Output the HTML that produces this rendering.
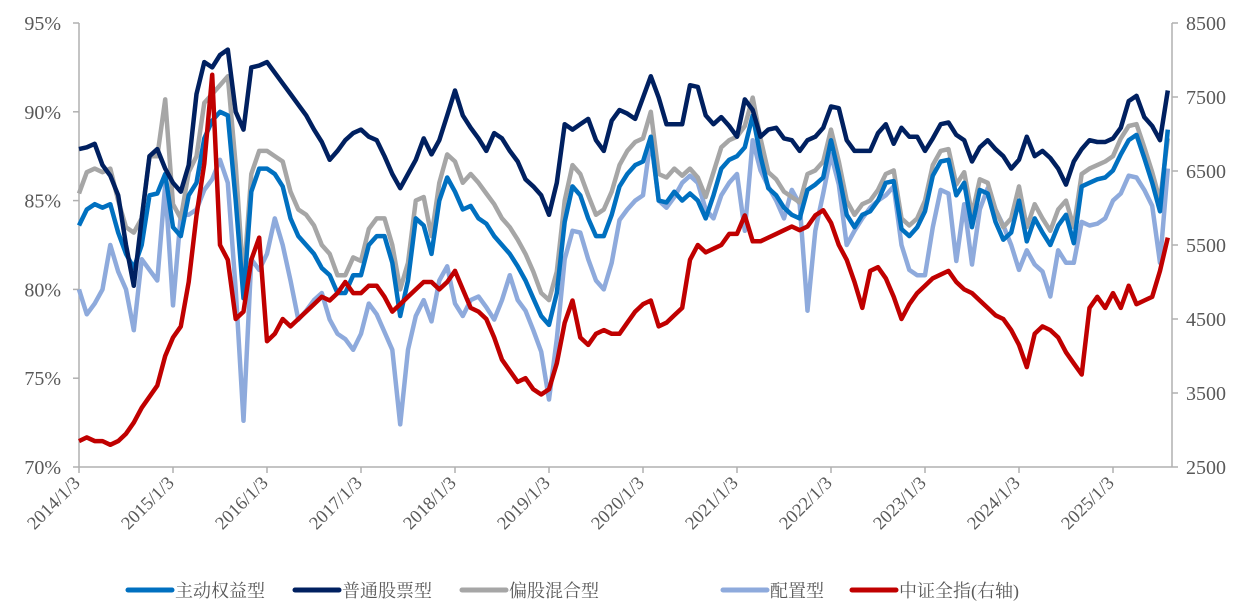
<!DOCTYPE html>
<html><head><meta charset="utf-8"><style>
body{margin:0;background:#fff;}
svg{display:block;}
text{font-family:"Liberation Serif","Noto Serif CJK SC",serif;fill:#595959;}
</style></head><body>
<svg id="chart" width="1248" height="609" viewBox="0 0 1248 609" xmlns="http://www.w3.org/2000/svg">
<g id="axes"></g>
<g id="series"></g>
<g id="legend"></g>
</svg>
<script>
const startYear = 2014;
const xTickLabels = ["2014/1/3","2015/1/3","2016/1/3","2017/1/3","2018/1/3","2019/1/3","2020/1/3","2021/1/3","2022/1/3","2023/1/3","2024/1/3","2025/1/3"];
const leftTicks = [70,75,80,85,90,95];
const rightTicks = [2500,3500,4500,5500,6500,7500,8500];
const seriesNames = ["主动权益型","普通股票型","偏股混合型","配置型","中证全指(右轴)"];
const activeEquity = [83.6,84.5,84.8,84.6,84.8,83.2,82,81.2,82.5,85.3,85.4,86.5,
83.5,83,85.3,86,88.5,89.5,90,89.8,85,79.5,85.5,86.8,
86.8,86.5,85.8,84,83,82.5,82,81.2,80.8,79.8,79.8,80.8,
80.8,82.5,83,83,81.5,78.5,80.5,84,83.6,82,85,86.3,
85.5,84.5,84.7,84,83.7,83,82.5,82,81.3,80.5,79.5,78.5,
78,79.8,83.8,85.8,85.3,84,83,83,84.2,85.8,86.5,87,
87.2,88.6,85,84.9,85.5,85,85.4,85,84,85.3,86.8,87.3,
87.5,88,89.8,87.5,85.7,85.3,84.6,84.2,84,85.6,85.9,86.3,
88.4,86.5,84.2,83.5,84.2,84.4,85,86,86.1,83.4,83,83.5,
84.4,86.4,87.2,87.3,85.3,86,83.5,85.6,85.4,83.8,82.8,83.2,
85,82.7,84,83.2,82.5,83.6,84.2,82.6,85.8,86,86.2,86.3,
86.7,87.6,88.4,88.7,87.4,86,84.4,89];
const commonStock = [87.9,88,88.2,87,86.4,85.3,82.5,80.2,84,87.5,87.9,86.8,
86,85.5,87,91,92.8,92.5,93.2,93.5,90,89,92.5,92.6,
92.8,92.2,91.6,91,90.4,89.8,89,88.3,87.3,87.8,88.4,88.8,
89,88.6,88.4,87.5,86.5,85.7,86.5,87.3,88.5,87.6,88.4,89.8,
91.2,89.8,89.1,88.5,87.8,88.8,88.5,87.8,87.2,86.2,85.8,85.3,
84.2,86,89.3,89,89.3,89.6,88.4,87.8,89.5,90.1,89.9,89.6,
90.8,92,90.8,89.3,89.3,89.3,91.5,91.4,89.8,89.3,89.7,89.2,
88.6,90.7,90.1,88.6,89,89.1,88.5,88.4,87.8,88.4,88.6,89.1,
90.3,90.2,88.4,87.8,87.8,87.8,88.8,89.3,88.2,89.1,88.6,88.6,
87.8,88.5,89.3,89.4,88.7,88.4,87.2,88,88.4,87.9,87.5,86.8,
87.3,88.6,87.5,87.8,87.4,86.8,85.9,87.2,87.9,88.4,88.3,88.3,
88.5,89.1,90.6,90.9,89.7,89.2,88.4,91.2];
const equityHybrid = [85.4,86.6,86.8,86.6,86.8,85,83.5,83.2,84,87.5,87.5,90.7,
84.8,84,86.6,87.5,90.5,91,91.5,92,87,80.5,86.5,87.8,
87.8,87.5,87.2,85.5,84.5,84.2,83.6,82.5,82,80.8,80.8,81.8,
81.6,83.4,84,84,82.5,80,81.5,85,85.2,83,86,87.6,
87.2,86,86.5,86,85.4,84.8,84,83.5,82.8,82,81,79.8,
79.4,81,85,87,86.5,85.3,84.2,84.5,85.5,87,87.8,88.3,
88.5,90,86.5,86.3,86.8,86.4,86.8,86.3,85.2,86.6,88,88.4,
88.6,89.2,90.8,88.5,86.6,86.2,85.5,85.2,84.9,86.5,86.7,87.2,
89,87.2,85,84.2,84.8,85,85.6,86.5,86.7,84,83.6,84,
85,87,87.8,87.9,85.9,86.6,84.2,86.2,86,84.5,83.5,84,
85.8,83.5,84.8,84,83.3,84.5,85,83.5,86.5,86.8,87,87.2,
87.5,88.5,89.2,89.3,88,86.6,85,88.5];
const allocation = [80,78.6,79.2,80,82.5,81,80,77.7,81.7,81.1,80.5,85.9,
79.1,84.2,84.2,84.5,85.6,86.2,87.3,86,80,72.6,81.7,81.1,
82,84,82.5,80.5,78.3,78.8,79.4,79.8,78.3,77.5,77.2,76.6,
77.5,79.2,78.6,77.6,76.6,72.4,76.6,78.5,79.4,78.2,80.5,81.3,
79.2,78.5,79.4,79.6,79,78.3,79.4,80.8,79.4,78.8,77.7,76.5,
73.8,77.2,81.7,83.3,83.2,81.7,80.5,80,81.5,83.9,84.5,85,
85.3,88.5,85,84.6,85.2,86,86.4,86,84.5,84,85.3,86,
86.5,83.3,88.4,86.7,85.8,85,84,85.6,84.8,78.8,83.3,85.4,
87.6,85.9,82.5,83.3,84,84.6,85,85.3,85.8,82.5,81.1,80.8,
80.8,83.5,85.6,85.4,81.6,84.8,81.4,84.5,85.7,84.5,83.6,82.5,
81.1,82.2,81.4,81,79.6,82.2,81.5,81.5,83.8,83.6,83.7,84,
85,85.4,86.4,86.3,85.6,84.7,81.5,86.8];
const csiAll = [2850,2900,2850,2850,2800,2850,2950,3100,3300,3450,3600,4000,
4250,4400,5000,5900,6600,7800,5500,5300,4500,4600,5300,5600,
4200,4300,4500,4400,4500,4600,4700,4800,4750,4850,5000,4850,
4850,4950,4950,4800,4600,4700,4800,4900,5000,5000,4900,5000,
5150,4900,4650,4600,4500,4250,3950,3800,3650,3700,3550,3480,
3550,3900,4450,4750,4250,4150,4300,4350,4300,4300,4450,4600,
4700,4750,4400,4450,4550,4650,5300,5500,5400,5450,5500,5650,
5650,5900,5550,5550,5600,5650,5700,5750,5700,5750,5900,5970,
5800,5500,5300,5000,4650,5150,5200,5050,4800,4500,4700,4850,
4950,5050,5100,5150,5000,4900,4850,4750,4650,4550,4500,4350,
4150,3850,4300,4400,4350,4250,4050,3900,3750,4650,4800,4650,
4850,4650,4950,4700,4750,4800,5150,5600];

const X0=79, X1=1172, Y0=467, Y1=23, PX_YEAR=94;
const xPos = m => X0 + m*PX_YEAR/12;
const yL = v => Y0 - (v-70)/(95-70)*(Y0-Y1);
const yR = v => Y0 - (v-2500)/(8500-2500)*(Y0-Y1);
const NS="http://www.w3.org/2000/svg";
function mk(tag, parent, attrs){const e=document.createElementNS(NS,tag);for(const k in attrs)e.setAttribute(k,attrs[k]);parent.appendChild(e);return e;}
const axes=document.getElementById('axes');
const AX="#b0b0b0";
let el;
el=mk('line',axes,{x1:X0,y1:Y1,x2:X0,y2:Y0,stroke:AX,'stroke-width':1.5});


el=mk('line',axes,{x1:X1,y1:Y1,x2:X1,y2:Y0,stroke:AX,'stroke-width':1.5});


el=mk('line',axes,{x1:X0,y1:Y0,x2:X1,y2:Y0,stroke:AX,'stroke-width':1.5});


leftTicks.forEach(v=>{
  mk('line',axes,{x1:X0-6,y1:yL(v),x2:X0,y2:yL(v),stroke:AX,'stroke-width':1.5});
  const t=mk('text',axes,{x:X0-18,y:yL(v)+7,'text-anchor':'end','font-size':20});
  t.textContent=v+'%';
  
  
});
rightTicks.forEach(v=>{
  mk('line',axes,{x1:X1,y1:yR(v),x2:X1+6,y2:yR(v),stroke:AX,'stroke-width':1.5});
  const t=mk('text',axes,{x:X1+14,y:yR(v)+7,'font-size':20});
  t.textContent=v;
  
  
});
xTickLabels.forEach((lab,i)=>{
  const x=xPos(i*12);
  mk('line',axes,{x1:x,y1:Y0,x2:x,y2:Y0+6,stroke:AX,'stroke-width':1.5});
  const t=mk('text',axes,{x:x+2,y:Y0+17,'text-anchor':'end','font-size':18.5,transform:`rotate(-45 ${x+2} ${Y0+17})`});
  t.textContent=lab;
  
  
});
const ser=document.getElementById('series');
const colors=["#0070c0","#002060","#a6a6a6","#8eaadc","#c00000"];
const datasets=[activeEquity,commonStock,equityHybrid,allocation,csiAll];
const order=[3,2,0,1,4];
const names=["active-equity-line","common-stock-line","equity-hybrid-line","allocation-line","csi-all-index-line"];
order.forEach(i=>{
  const d=datasets[i];const yf=i===4?yR:yL;
  const pts=d.map((v,m)=>xPos(m).toFixed(1)+','+yf(v).toFixed(1)).join(' ');
  const p=mk('polyline',ser,{points:pts,fill:'none',stroke:colors[i],'stroke-width':4.5,'stroke-linejoin':'round'});
  
  
});
const leg=document.getElementById('legend');
const legX=[128,295,462,723,852];
seriesNames.forEach((n,i)=>{
  const g=mk('g',leg,{});
  
  
  mk('line',g,{x1:legX[i],y1:590,x2:legX[i]+44,y2:590,stroke:colors[i],'stroke-width':5,'stroke-linecap':'round'});
  const t=mk('text',g,{x:legX[i]+47,y:597,'font-size':18});
  t.textContent=n;
});
</script>
</body></html>
